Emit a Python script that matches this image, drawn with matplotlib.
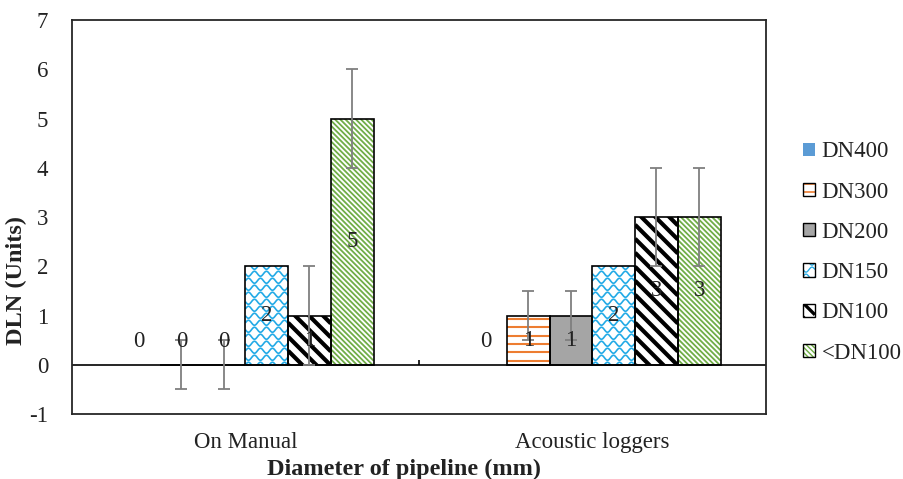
import numpy as np
import matplotlib
matplotlib.use('Agg')
import matplotlib.pyplot as plt
from matplotlib.patches import Patch, Rectangle
from matplotlib.collections import LineCollection
from matplotlib.transforms import IdentityTransform
from matplotlib.legend_handler import HandlerBase

# data
categories = ['On Manual', 'Acoustic loggers']
series = ['DN400', 'DN300', 'DN200', 'DN150', 'DN100', '<DN100']
on_manual = [0, 0, 0, 2, 1, 5]
acoustic = [0, 1, 1, 2, 3, 3]
err_manual = [None, 0.5, 0.5, None, 1, 1]
err_acoustic = [None, 0.5, 0.5, None, 1, 1]
y_ticks = [-1, 0, 1, 2, 3, 4, 5, 6, 7]

# fill / pattern per series
styles = {
    'DN400': dict(face='#5B9BD5', kind=None, line=None, lw=0, edge=False),
    'DN300': dict(face='white', kind='hline', line='#ED7D31', lw=1.5, edge=True),
    'DN200': dict(face='#A5A5A5', kind=None, line=None, lw=0, edge=True),
    'DN150': dict(face='white', kind='wave', line='#22AAE6', lw=1.2, edge=True),
    'DN100': dict(face='white', kind='diag', line='black', lw=3.0, edge=True),
    '<DN100': dict(face='white', kind='fine', line='#70AD47', lw=1.3, edge=True),
}

plt.rcParams['font.family'] = ['Liberation Serif', 'DejaVu Serif']
plt.rcParams['axes.unicode_minus'] = False
text_col = '#222222'


def stripes(kind, x0, y0, x1, y1, k):
    # pattern lines for a box, k = one reference pixel in box units
    segs = []
    if kind == 'hline':
        p = 8.3 * k
        for y in np.arange(y0 + p / 2, y1, p):
            segs.append([(x0, y), (x1, y)])
    elif kind in ('diag', 'fine'):
        p = (14 if kind == 'diag' else 5.2) * k
        for c in np.arange(x0 + y0, x1 + y1 + p, p):
            segs.append([(x0, c - x0), (x1, c - x1)])
    elif kind == 'wave':
        L, A, r = 12 * k, 2.5 * k, 7 * k
        xs = np.linspace(x0, x1, 80)
        for j, y in enumerate(np.arange(y0, y1 + r, r)):
            shift = (j % 2) * L / 2
            segs.append(np.column_stack([xs, y + A * np.sin(2 * np.pi * (xs - x0 + shift) / L)]))
    return segs


class SwatchHandler(HandlerBase):
    def create_artists(self, legend, orig_handle, xdescent, ydescent, width, height, fontsize, trans):
        st = styles[orig_handle.get_label()]
        x0, y0 = -xdescent, -ydescent
        rect = Rectangle((x0, y0), width, height, facecolor=st['face'], edgecolor='none', transform=trans)
        arts = [rect]
        if st['kind']:
            lc = LineCollection(stripes(st['kind'], x0, y0, x0 + width, y0 + height, 0.72),
                                colors=st['line'], linewidths=st['lw'] * 0.8, transform=trans)
            lc.set_clip_path(rect)
            arts.append(lc)
        if st['edge']:
            arts.append(Rectangle((x0, y0), width, height, fill=False, edgecolor='black', lw=1.0, transform=trans))
        return arts


fig = plt.figure(figsize=(9.04, 4.79), dpi=100)
ax = fig.add_axes([0.0796, 0.1357, 0.7677, 0.8225])
ax.set_xlim(-0.5, len(categories) - 0.5)
ax.set_ylim(y_ticks[0], y_ticks[-1])
ax.set_autoscale_on(False)

w = 0.123
xc = np.arange(len(categories))
handles = []
for i, name in enumerate(series):
    st = styles[name]
    x = xc + (i - (len(series) - 1) / 2) * w
    h = [on_manual[i], acoustic[i]]
    bars = ax.bar(x, h, w, color=st['face'], edgecolor='none', zorder=2)
    if st['edge']:
        ax.bar(x, h, w, fill=False, edgecolor='black', lw=1.2, zorder=2.4)
    if st['kind']:
        for rect, v in zip(bars, h):
            if v <= 0:
                continue
            bb = rect.get_window_extent()
            lc = LineCollection(stripes(st['kind'], bb.x0, bb.y0, bb.x1, bb.y1, 1.0),
                                colors=st['line'], linewidths=st['lw'],
                                transform=IdentityTransform(), zorder=2.2)
            ax.add_collection(lc, autolim=False)
            lc.set_clip_path(rect)

    # error bars
    errs = [err_manual[i], err_acoustic[i]]
    keep = [j for j, e in enumerate(errs) if e is not None]
    if keep:
        ax.errorbar(x[keep], [h[j] for j in keep], yerr=[errs[j] for j in keep], fmt='none',
                    ecolor='#7F7F7F', elinewidth=1.3, capsize=4, capthick=1.3, zorder=3)

    # value labels
    for xi, v in zip(x, h):
        if v > 0:
            ax.text(xi, v / 2, str(v), ha='center', va='center', fontsize=16.5, color=text_col, zorder=4)
        else:
            ax.annotate(str(v), (xi, 0), xytext=(0, 17), textcoords='offset points',
                        ha='center', va='center', fontsize=16.5, color=text_col, zorder=4)

    handles.append(Patch(facecolor=st['face'], label=name))

# horizontal axis line at zero with category divider tick
ax.axhline(0, color='black', lw=1.2, zorder=2.5)
ax.vlines(xc[:-1] + 0.5, 0, 0.1, color='black', lw=1.2, zorder=2.5)

ax.set_yticks(y_ticks)
ax.set_xticks(xc, categories)
ax.tick_params(axis='y', length=0, pad=17, labelsize=16.5, labelcolor=text_col)
ax.tick_params(axis='x', length=0, pad=13, labelsize=16.5, labelcolor=text_col)
for sp in ax.spines.values():
    sp.set_color('#262626')
    sp.set_linewidth(1.3)

ax.set_ylabel('DLN (Units)', fontsize=17.5, fontweight='bold', color=text_col)
ax.yaxis.set_label_coords(-0.065, 0.34)
ax.set_xlabel('Diameter of pipeline (mm)', fontsize=17.5, fontweight='bold', color=text_col)
ax.xaxis.set_label_coords(0.478, -0.115)

fig.legend(handles=handles, labels=series, handler_map={Patch: SwatchHandler()},
           loc='center left', bbox_to_anchor=(803 / 904, 0.473), frameon=False,
           borderpad=0, borderaxespad=0, handlelength=0.52, handleheight=0.52,
           handletextpad=0.3, labelspacing=0.84, fontsize=16.5, labelcolor=text_col)

fig.savefig('out.png', dpi=100)
